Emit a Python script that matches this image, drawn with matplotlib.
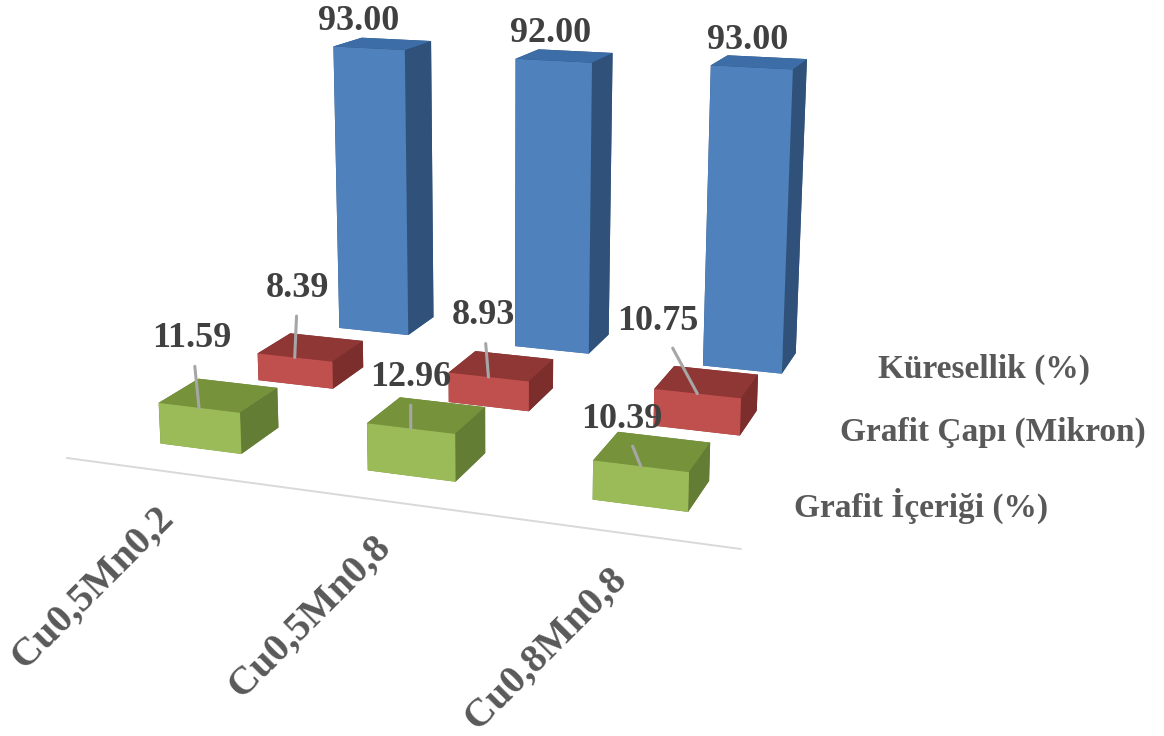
import matplotlib
matplotlib.use("Agg")
import matplotlib.pyplot as plt
from mpl_toolkits.mplot3d import proj3d

categories = ["Cu0,5Mn0,2", "Cu0,5Mn0,8", "Cu0,8Mn0,8"]
series_names = ["Grafit İçeriği (%)", "Grafit Çapı (Mikron)", "Küresellik (%)"]
grafit_icerigi = [11.59, 12.96, 10.39]
grafit_capi = [8.39, 8.93, 10.75]
kuresellik = [93.00, 92.00, 93.00]

# top, side and front shades for each series
shades = [("#76933c", "#647d35", "#9bbb59"),
          ("#8f3735", "#7b2e2c", "#c0504d"),
          ("#3c6da6", "#30527a", "#4f81bd")]

# hand placed data labels in the original, offset in pixels from the bar's front top edge
label_offsets = [[(-7, 69), (0, 51), (-19, 47)],
                 [(3, 69), (-5, 61), (-39, 72)],
                 [(-10, 27), (-3, 27), (-4, 27)]]
series_label_pos = [(921, 506), (993, 432), (984, 369)]

plt.rcParams['font.family'] = ['Liberation Serif', 'DejaVu Serif']
GRAY = "#595959"
W, H = 1164, 736

fig = plt.figure(figsize=(W / 100, H / 100), dpi=100)
ax = fig.add_axes([0.1061, 0.1755, H / W, 1], projection='3d')
ax.set_axis_off()
ax.patch.set_alpha(0)
ax.set_proj_type('persp', focal_length=0.47)
ax.view_init(elev=13.4, azim=-70.5)
ax.set_xlim(-0.5, 2.5)
ax.set_ylim(-0.5, 2.5)
ax.set_zlim(0, 100)
ax.set_box_aspect((545, 523, 297), zoom=1.2576)

width = 0.4
depth = 0.38
values = [grafit_icerigi, grafit_capi, kuresellik]


def project(x, y, z):
    px, py, _ = proj3d.proj_transform(x, y, z, ax.get_proj())
    return px, py


for s in range(len(series_names)):
    for c in range(len(categories)):
        v = values[s][c]
        top, side, front = shades[s]
        # bar3d face order: bottom, top, front(-y), back(+y), left(-x), right(+x)
        bars = ax.bar3d(c - width / 2, s - depth / 2, 0, width, depth, v,
                        color=[top, top, front, side, side, side], shade=False,
                        linewidth=0, zsort='max')
        bars.set_clip_on(False)
        arrow = None
        if s < 2:
            arrow = dict(arrowstyle='-', color="#a6a6a6", lw=2.2, shrinkA=6, shrinkB=0)
        ax.annotate("%.2f" % v, xy=project(c, s - depth / 2, v), xycoords='data',
                    xytext=label_offsets[s][c], textcoords='offset pixels',
                    fontsize=26, fontweight='bold', color="#404040",
                    ha='center', va='center', annotation_clip=False, zorder=1000,
                    arrowprops=arrow)

axis_line = ax.plot([-0.49, 2.48], [-0.5, -0.5], [0, 0], color="#d9d9d9", lw=1.4)[0]
axis_line.set_clip_on(False)

for c, name in enumerate(categories):
    ax.annotate(name, xy=project(c, -0.5, 0), xycoords='data',
                xytext=(-12, -28), textcoords='offset pixels',
                fontsize=29, fontweight='bold', color=GRAY, rotation=45,
                ha='right', va='top', rotation_mode='anchor', annotation_clip=False)

for s, name in enumerate(series_names):
    fig.text(series_label_pos[s][0] / W, 1 - series_label_pos[s][1] / H, name,
             fontsize=24, fontweight='bold', color=GRAY, ha='center', va='center')

fig.savefig("out.png", dpi=100)
